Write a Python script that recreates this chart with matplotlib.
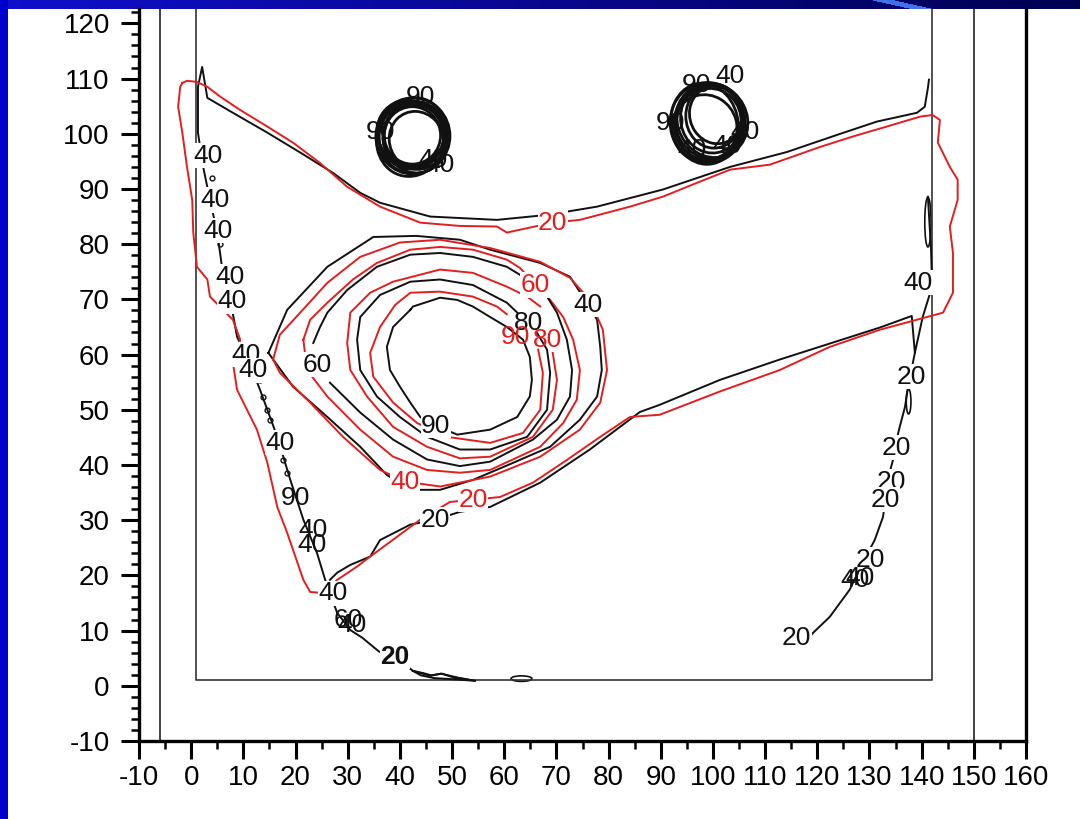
import numpy as np
import matplotlib
matplotlib.use('Agg')
import matplotlib.pyplot as plt
from matplotlib.patches import Ellipse

plt.rcParams['font.family'] = ['Liberation Sans', 'DejaVu Sans']
plt.rcParams['axes.unicode_minus'] = False

RED = '#e11f1f'
BLK = '#111111'

# contour lines, (x, y) in axis units
# black 20: left ridge, spike and top edge
b20_top = [(54.4, 0.9), (51.0, 1.5), (47.9, 2.2), (45.8, 1.8), (42.5, 2.7), (39.1, 5.3),
           (36.0, 6.2), (32.8, 8.7), (30.5, 10.1), (28.0, 13.2), (26.1, 17.9), (24.1, 24.1),
           (21.5, 30.1), (19.0, 37.3), (16.5, 45.1), (13.2, 53.6), (10.7, 59.6), (8.8, 63.2),
           (7.5, 69.9), (5.9, 75.9), (5.0, 82.1), (3.6, 88.0), (2.3, 94.0), (1.3, 100.2),
           (1.3, 108.5), (2.1, 112.1), (3.1, 106.5), (8.0, 103.8), (14.6, 100.2), (20.9, 96.6),
           (27.2, 92.9), (32.4, 89.3), (36.2, 87.5), (45.8, 85.0), (58.6, 84.4), (68.2, 85.3),
           (77.8, 86.8), (90.4, 89.9), (103.3, 94.0), (114.2, 96.7), (123.8, 99.8),
           (131.4, 102.2), (139.1, 103.8), (140.6, 104.9), (141.2, 108.3), (141.4, 109.8)]
# black 20: lower edge of the band
b20_low = [(141.2, 88.6), (141.8, 79.0), (142.0, 72.3), (140.2, 66.8), (138.7, 60.3),
           (138.1, 67.0), (132.0, 64.9), (112.8, 59.1), (101.3, 55.4), (89.8, 50.9),
           (86.0, 49.6), (76.4, 42.8), (66.9, 36.8), (57.3, 32.4), (51.5, 31.5), (46.7, 30.1),
           (42.0, 29.2), (36.2, 26.4), (34.3, 23.4), (30.5, 21.9), (28.0, 20.5), (26.6, 19.2)]
# black 20: chain on the right
b20_right = [(138.7, 60.3), (137.4, 54.2), (136.8, 50.5), (135.8, 46.9), (135.2, 44.6),
             (134.5, 40.9), (133.5, 37.3), (132.6, 30.6), (131.0, 26.4), (128.5, 21.9),
             (126.2, 17.4), (122.4, 12.5), (119.2, 9.6), (118.6, 8.9)]

red20 = [(-1.7, 109.2), (-0.8, 109.6), (1.1, 109.4), (3.1, 108.5), (5.6, 106.7), (9.4, 104.3),
         (14.6, 101.3), (19.5, 98.4), (24.7, 94.7), (29.9, 90.4), (36.2, 86.8), (43.9, 83.9),
         (51.5, 83.3), (58.6, 83.2), (60.5, 82.1), (64.9, 83.0), (69.3, 83.9), (74.5, 84.4),
         (84.1, 86.8), (90.4, 88.6), (96.9, 91.1), (103.3, 93.5), (110.9, 94.4), (120.5, 97.6),
         (126.8, 99.5), (133.3, 101.3), (139.7, 103.1), (142.1, 103.4), (143.5, 102.5),
         (143.1, 98.4), (145.4, 94.0), (146.9, 91.7), (146.9, 88.0), (145.4, 83.2),
         (146.0, 78.4), (146.0, 71.2), (144.1, 67.6), (141.0, 66.8), (132.0, 64.5),
         (122.4, 61.4), (112.8, 57.2), (101.3, 53.3), (89.8, 49.1), (84.1, 48.7), (78.4, 45.1),
         (72.0, 40.9), (65.5, 36.8), (59.2, 34.2), (54.0, 33.7), (49.6, 33.3), (43.9, 30.1),
         (34.3, 23.4), (31.8, 21.6), (28.0, 19.2), (25.3, 16.8), (22.8, 17.0), (21.5, 19.2),
         (18.4, 27.7), (16.5, 32.4), (14.6, 40.4), (12.6, 46.4), (8.8, 53.6), (8.0, 58.5),
         (9.4, 62.7), (8.0, 66.3), (3.6, 70.5), (3.1, 73.6), (1.1, 75.9), (0.4, 82.1),
         (0.2, 88.0), (-0.8, 94.0), (-1.7, 100.2), (-2.5, 104.9), (-2.1, 108.5), (-1.7, 109.2)]

blk40 = [(14.8, 60.3), (18.4, 68.1), (26.1, 75.9), (34.9, 81.3), (43.1, 81.5), (51.5, 80.8),
         (57.3, 79.0), (66.9, 76.6), (72.6, 74.1), (76.1, 69.0), (77.8, 66.3), (78.4, 61.4),
         (78.7, 57.2), (77.8, 52.4), (74.5, 48.2), (68.8, 43.3), (60.5, 39.9), (54.0, 37.3),
         (47.7, 35.5), (42.0, 35.5), (37.5, 38.2), (32.4, 43.3), (26.1, 48.7), (19.5, 54.2),
         (14.8, 60.3)]
red40 = [(15.7, 59.1), (17.0, 56.7), (22.8, 51.3), (29.1, 45.1), (36.2, 39.1), (41.0, 37.0),
         (47.7, 36.1), (57.3, 37.9), (66.9, 41.5), (74.5, 46.4), (78.4, 51.3), (79.7, 57.2),
         (78.9, 64.5), (76.4, 69.9), (72.6, 73.9), (66.9, 76.8), (57.3, 79.3), (47.7, 80.8),
         (40.0, 80.3), (32.4, 77.7), (26.1, 73.0), (20.9, 67.6), (17.0, 63.6), (15.7, 59.1)]
red60 = [(21.5, 62.7), (22.8, 66.3), (26.1, 69.4), (31.0, 73.6), (35.6, 76.6), (42.0, 79.0),
         (47.7, 79.5), (54.0, 79.0), (60.5, 77.2), (63.0, 75.7), (68.8, 69.9), (71.3, 66.8),
         (73.2, 62.7), (74.5, 57.2), (73.9, 51.8), (71.3, 47.6), (66.9, 43.3), (57.3, 39.1),
         (51.5, 38.6), (45.2, 39.1), (38.7, 41.5), (32.4, 46.4), (26.1, 52.4), (22.2, 57.2),
         (21.5, 62.7)]
blk60 = [(23.4, 62.1), (24.7, 65.0), (26.1, 67.6), (29.9, 71.7), (35.6, 75.9), (42.0, 78.1),
         (47.7, 78.4), (54.0, 77.7), (60.5, 75.9), (65.5, 73.0), (68.2, 70.5), (70.1, 67.6),
         (72.0, 62.7), (73.0, 57.2), (72.6, 52.4), (70.1, 48.2), (65.5, 44.6), (57.3, 40.6),
         (51.5, 39.8), (45.2, 41.0), (38.7, 44.6), (32.4, 49.5), (26.6, 54.9)]
red80 = [(66.9, 68.7), (64.4, 70.5), (60.5, 72.3), (54.0, 74.8), (47.7, 75.4), (38.7, 73.2),
         (34.3, 71.2), (30.5, 67.6), (29.9, 62.1), (30.5, 57.2), (33.7, 52.4), (38.7, 46.9),
         (45.2, 43.3), (51.5, 41.2), (57.3, 41.5), (65.5, 45.1), (69.3, 50.0), (70.1, 55.4),
         (69.3, 60.3)]
blk80 = [(62.5, 67.6), (60.5, 69.4), (54.0, 72.6), (47.7, 73.6), (42.0, 73.2), (36.2, 70.8),
         (32.4, 66.8), (31.8, 62.7), (32.4, 57.2), (35.6, 52.4), (40.0, 48.7), (45.2, 45.1),
         (51.5, 42.8), (57.3, 42.8), (64.4, 45.1), (68.2, 50.0), (68.8, 56.7), (68.2, 60.9),
         (66.3, 63.9)]
red90 = [(60.5, 67.3), (58.6, 68.7), (54.0, 70.5), (47.7, 71.4), (42.0, 71.2), (39.1, 69.0),
         (36.2, 65.0), (34.3, 60.3), (34.9, 56.0), (38.7, 51.3), (43.3, 47.6), (49.0, 45.1),
         (57.3, 44.0), (63.6, 45.8), (66.9, 50.0), (67.4, 56.7), (66.5, 60.9)]
blk90 = [(42.0, 68.1), (38.7, 65.0), (37.5, 61.4), (38.1, 57.2), (40.0, 54.2), (42.0, 51.3),
         (43.9, 48.7), (46.9, 47.1), (51.0, 45.5), (57.3, 46.4), (62.5, 48.7), (64.9, 52.4),
         (65.3, 55.4), (64.9, 59.6), (63.6, 62.7), (60.5, 65.0), (57.3, 66.8), (54.0, 68.7),
         (51.0, 69.9), (47.7, 70.3), (42.5, 68.7), (42.0, 68.1)]
bottom_trail = [(42.5, 2.7), (44.5, 2.3), (46.0, 1.9), (48.0, 2.2), (50.0, 1.6), (54.4, 0.9),
                (50.0, 1.2), (46.5, 1.4), (44.0, 1.9), (42.5, 2.7)]

# ring clusters at the top: centre x, centre y, width, height, angle
left_rings = [(42.5, 99.6, 14.2, 13.8, 0), (42.7, 99.3, 13.4, 13.0, 10), (42.2, 99.8, 12.6, 12.4, -15),
              (42.6, 99.5, 11.8, 11.2, 20), (42.4, 99.7, 10.8, 10.4, 0), (42.9, 99.2, 12.0, 12.8, 30),
              (42.0, 100.0, 13.0, 11.8, -30), (43.2, 98.8, 10.2, 10.8, 45), (42.3, 99.4, 14.6, 13.2, 60),
              (42.8, 99.9, 11.2, 12.0, -50)]
right_rings = [(99.0, 102.0, 14.4, 14.6, 20), (99.4, 102.3, 13.2, 13.6, 30), (99.8, 102.8, 12.0, 12.6, 10),
               (98.8, 101.6, 13.8, 12.6, 45), (100.2, 103.2, 10.8, 11.6, 0), (99.3, 101.9, 12.6, 13.8, -20),
               (98.6, 101.2, 11.6, 12.2, 60), (100.6, 103.4, 10.0, 10.6, 35), (98.4, 101.8, 12.8, 14.8, 15),
               (99.9, 102.4, 14.0, 13.0, -40)]
small_ovals = [(141.2, 84.0, 1.2, 9.0), (63.3, 1.3, 4.0, 1.0), (137.5, 51.5, 0.9, 4.5)]
ridge_dots = [(13.2, 55.4), (13.8, 52.4), (14.6, 50.0), (15.1, 48.2), (17.6, 40.9), (18.4, 38.6),
              (4.0, 92.0), (5.6, 80.0)]

# contour labels: x, y, text, colour, white box behind
labels = [
    (76.1, 69.0, '40', BLK, True), (65.9, 72.6, '60', RED, True), (24.1, 58.2, '60', BLK, True),
    (46.9, 47.1, '90', BLK, True), (41.0, 37.0, '40', RED, True), (54.0, 33.7, '20', RED, True),
    (46.7, 30.1, '20', BLK, True), (69.3, 83.9, '20', RED, True),
    (64.6, 65.8, '80', BLK, False), (62.2, 63.1, '90', RED, False), (68.2, 62.7, '80', RED, False),
    (3.3, 96.0, '40', BLK, True), (4.6, 88.0, '40', BLK, True), (5.2, 82.4, '40', BLK, True),
    (7.5, 74.1, '40', BLK, True), (7.9, 69.7, '40', BLK, True), (10.5, 60.0, '40', BLK, True),
    (11.9, 57.2, '40', BLK, True), (17.0, 44.0, '40', BLK, True), (19.9, 34.1, '90', BLK, False),
    (23.4, 28.3, '40', BLK, False), (23.2, 25.5, '40', BLK, False), (27.2, 16.8, '40', BLK, True),
    (30.1, 12.0, '60', BLK, False), (30.8, 11.1, '40', BLK, False),
    (139.3, 73.0, '40', BLK, True), (138.1, 56.0, '20', BLK, True), (135.2, 43.1, '20', BLK, True),
    (134.1, 37.0, '20', BLK, True), (133.0, 33.7, '20', BLK, True), (130.1, 22.8, '20', BLK, True),
    (127.2, 19.2, '40', BLK, False), (128.2, 19.6, '40', BLK, False), (116.0, 8.7, '20', BLK, True),
    (43.9, 106.7, '90', BLK, False), (36.2, 100.4, '90', BLK, False), (46.4, 95.3, '40', BLK, False),
    (47.7, 94.4, '40', BLK, False),
    (96.9, 108.9, '90', BLK, False), (103.3, 110.4, '40', BLK, False), (91.8, 101.9, '90', BLK, False),
    (106.1, 100.4, '40', BLK, False), (95.9, 97.1, '40', BLK, False), (102.6, 97.7, '40', BLK, False),
]

fig = plt.figure(figsize=(10.8, 8.19), dpi=100)

# slide background: blue frame on top and left
H, W = 819, 1080
bg = np.ones((H, W, 3))
t = np.linspace(0, 1, W)
bg[:9, :, 0] = 0.06 * (1 - t)
bg[:9, :, 1] = 0.06 * (1 - t)
bg[:9, :, 2] = 0.80 - 0.48 * t
for r in range(9):
    c0 = 873 + int(r * 4.5)
    bg[r, c0:c0 + 22, :] = [0.25, 0.45, 0.92]
bg[:, :8, :] = [0.0, 0.0, 0.80]
bga = fig.add_axes([0, 0, 1, 1], zorder=-10)
bga.imshow(bg, aspect='auto')
bga.axis('off')

ax = fig.add_axes([139 / 1080, 1 - 741 / 819, 887 / 1080, 732 / 819])
ax.set_xlim(-10, 160)
ax.set_ylim(-10, 122.6)

# frame lines of the model
ax.plot([1, 1, 142, 142], [123, 1, 1, 123], color='#333333', lw=1.2)
ax.axvline(-6, color='#333333', lw=1.3)
ax.axvline(150, color='#333333', lw=1.3)

for line, col in [(b20_top, BLK), (b20_low, BLK), (b20_right, BLK), (bottom_trail, BLK),
                  (red20, RED), (blk40, BLK), (red40, RED), (red60, RED), (blk60, BLK),
                  (red80, RED), (blk80, BLK), (red90, RED), (blk90, BLK)]:
    xy = np.array(line)
    ax.plot(xy[:, 0], xy[:, 1], color=col, lw=1.4, solid_joinstyle='round')

for cx, cy, w, h, a in left_rings + right_rings:
    ax.add_patch(Ellipse((cx, cy), w, h, angle=a, fill=False, ec=BLK, lw=2.0))
for cx, cy, w, h in small_ovals:
    ax.add_patch(Ellipse((cx, cy), w, h, fill=False, ec=BLK, lw=1.2))
dots = np.array(ridge_dots)
ax.plot(dots[:, 0], dots[:, 1], 'o', ms=3.5, mfc='none', mec=BLK, mew=1.0)

for i, (x, y, s, col, boxed) in enumerate(labels):
    kw = {}
    if boxed:
        kw['bbox'] = dict(boxstyle='square,pad=0.02', fc='white', ec='none')
    ax.text(x, y, s, color=col, fontsize=19, ha='center', va='center', zorder=5 + i * 0.01, **kw)
ax.text(39.1, 5.3, '20', color=BLK, fontsize=19, fontweight='bold', ha='center', va='center',
        zorder=6, bbox=dict(boxstyle='square,pad=0.02', fc='white', ec='none'))

ax.spines['top'].set_visible(False)
for s in ['left', 'bottom', 'right']:
    ax.spines[s].set_linewidth(2.4)
    ax.spines[s].set_color('black')
ax.set_xticks(range(-10, 161, 10))
ax.set_yticks(range(-10, 121, 10))
ax.set_xticks(range(-10, 161, 5), minor=True)
ax.set_yticks(range(-10, 123, 2), minor=True)
ax.tick_params(which='major', direction='out', length=13, width=2.2, labelsize=20)
ax.tick_params(which='minor', direction='out', length=6, width=1.8)
ax.tick_params(axis='y', which='both', right=False, pad=8)
ax.tick_params(axis='x', which='both', top=False, pad=4)

fig.savefig('out.png', dpi=100)
